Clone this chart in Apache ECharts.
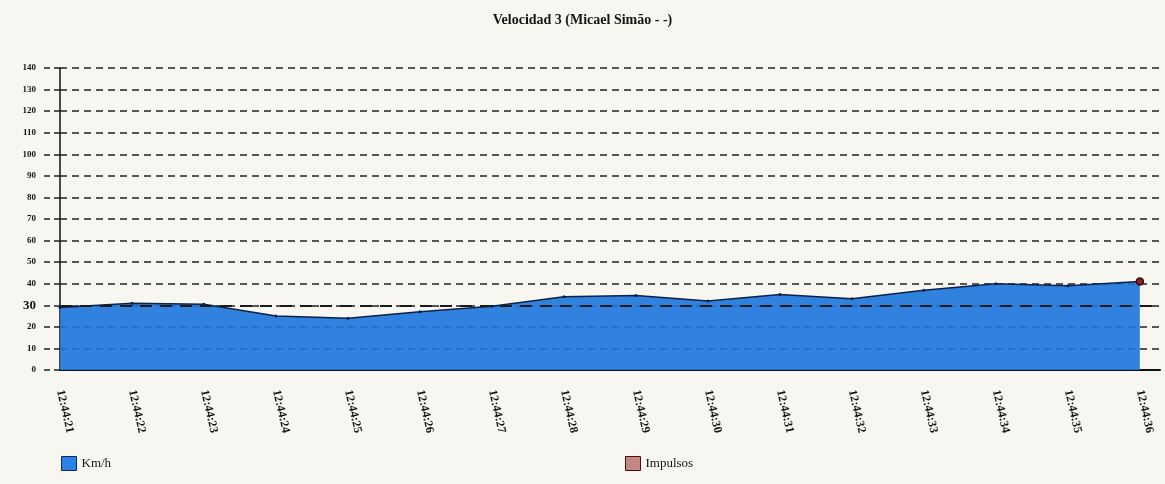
<!DOCTYPE html>
<html>
<head>
<meta charset="utf-8">
<script src="https://cdn.jsdelivr.net/npm/echarts@6/dist/echarts.min.js"></script>
<style>
html,body{margin:0;padding:0;background:#f7f6f1;}
#c{width:1165px;height:484px;}
</style>
</head>
<body>
<div id="c"></div>
<script>
var categories = ['12:44:21','12:44:22','12:44:23','12:44:24','12:44:25','12:44:26','12:44:27','12:44:28','12:44:29','12:44:30','12:44:31','12:44:32','12:44:33','12:44:34','12:44:35','12:44:36'];
var kmh = [29, 31, 30.5, 25, 24, 27, 29.5, 34, 34.5, 32, 35, 33, 37, 40, 39, 41];
var impulsos = [null, null, null, null, null, null, null, null, null, null, null, null, null, null, null, 41];
var threshold = 30;

var font = '"Liberation Serif", "DejaVu Serif", serif';
var kmhPts = kmh.map(function (v, i) { return [i, v]; });
var impPts = [];
impulsos.forEach(function (v, i) { if (v !== null) impPts.push([i, v]); });

var chart = echarts.init(document.getElementById('c'));
chart.setOption({
  backgroundColor: '#f7f6f1',
  animation: false,
  title: {
    text: 'Velocidad 3 (Micael Simão - -)',
    left: 'center',
    top: 8,
    textStyle: { fontFamily: font, fontSize: 14, fontWeight: 'bold', color: '#151515' }
  },
  legend: [
    {
      left: 56, bottom: 8, itemWidth: 15, itemHeight: 14, icon: 'rect',
      textStyle: { fontFamily: font, fontSize: 13, color: '#151515' },
      data: [{ name: 'Km/h', itemStyle: { color: '#2a82e4', borderColor: '#0d2a55', borderWidth: 1 } }]
    },
    {
      left: 620, bottom: 8, itemWidth: 15, itemHeight: 14, icon: 'rect',
      textStyle: { fontFamily: font, fontSize: 13, color: '#151515' },
      data: [{ name: 'Impulsos', itemStyle: { color: '#c48880', borderColor: '#4a1010', borderWidth: 1 } }]
    }
  ],
  grid: { left: 60, right: 5, top: 68, bottom: 114, containLabel: false },
  xAxis: {
    type: 'value',
    min: 0,
    max: 15.28,
    interval: 1,
    axisLine: { show: true, onZero: false, lineStyle: { color: '#111', width: 2 } },
    axisTick: { show: false },
    splitLine: { show: false },
    axisLabel: {
      rotate: -77,
      margin: 20,
      fontFamily: font,
      fontSize: 12,
      fontWeight: 'bold',
      color: '#151515',
      showMaxLabel: false,
      formatter: function (v) {
        return (Math.abs(v - Math.round(v)) < 1e-6 && categories[Math.round(v)]) ? categories[Math.round(v)] : '';
      }
    }
  },
  yAxis: {
    type: 'value',
    min: 0,
    max: 140,
    interval: 10,
    axisLine: { show: true, lineStyle: { color: '#111', width: 1.5 } },
    axisTick: { show: true, length: 20, lineStyle: { color: '#222', width: 1.5, type: [6, 4] } },
    splitLine: { show: true, lineStyle: { color: '#222', width: 1.5, type: [7, 5] } },
    axisLabel: {
      margin: 24,
      fontFamily: font,
      fontSize: 9,
      fontWeight: 'bold',
      color: '#151515',
      formatter: function (v) { return v === threshold ? '{b|' + v + '}' : '{a|' + v + '}'; },
      rich: {
        a: { fontFamily: font, fontSize: 9, fontWeight: 'bold', color: '#151515' },
        b: { fontFamily: font, fontSize: 13, fontWeight: 'bold', color: '#111' }
      }
    }
  },
  series: [
    {
      name: 'Km/h',
      type: 'line',
      data: kmhPts,
      symbol: 'circle',
      symbolSize: 3,
      showSymbol: true,
      itemStyle: { color: '#0c2246' },
      lineStyle: { color: '#0c2246', width: 1.5 },
      areaStyle: { color: '#1b76dc', opacity: 0.9, origin: 'start' },
      markLine: {
        silent: true,
        symbol: 'none',
        label: { show: false },
        lineStyle: { color: '#1a1a1a', width: 2, type: [12, 8] },
        data: [{ yAxis: threshold }]
      },
      z: 2
    },
    {
      name: 'Impulsos',
      type: 'line',
      data: impPts,
      symbol: 'circle',
      symbolSize: 7,
      itemStyle: { color: '#8a2222', borderColor: '#3a0808', borderWidth: 1.5 },
      lineStyle: { color: '#8a2222', width: 1 },
      z: 3
    }
  ]
});
</script>
</body>
</html>
